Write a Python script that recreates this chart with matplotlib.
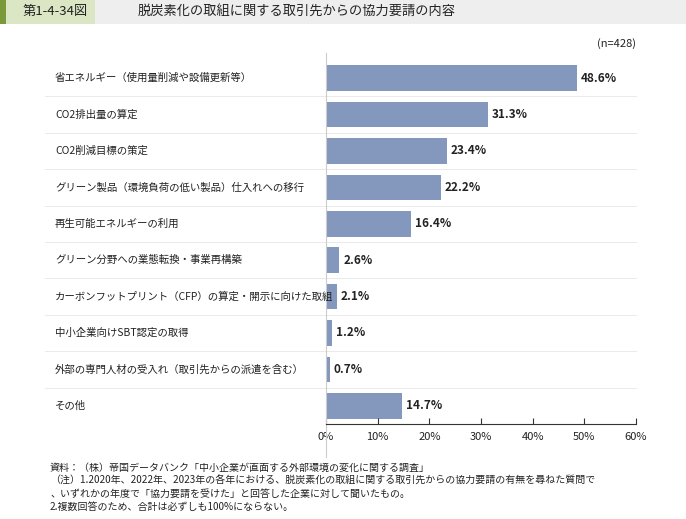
import matplotlib
matplotlib.use("Agg")
import matplotlib.pyplot as plt
from matplotlib.patches import Rectangle

plt.rcParams["font.family"] = "Noto Sans CJK JP"

categories = [
    "省エネルギー（使用量削減や設備更新等）",
    "CO2排出量の算定",
    "CO2削減目標の策定",
    "グリーン製品（環境負荷の低い製品）仕入れへの移行",
    "再生可能エネルギーの利用",
    "グリーン分野への業態転換・事業再構築",
    "カーボンフットプリント（CFP）の算定・開示に向けた取組",
    "中小企業向けSBT認定の取得",
    "外部の専門人材の受入れ（取引先からの派遣を含む）",
    "その他",
]
values = [48.6, 31.3, 23.4, 22.2, 16.4, 2.6, 2.1, 1.2, 0.7, 14.7]
xticks = [0, 10, 20, 30, 40, 50, 60]

BAR = "#8497bd"
W, H = 686, 519
fig = plt.figure(figsize=(W / 100, H / 100), dpi=100)
fig.patch.set_facecolor("white")

# header
fig.patches.append(Rectangle((0, 1 - 24 / H), 1, 24 / H, transform=fig.transFigure,
                             facecolor="#eeeeee", edgecolor="none"))
fig.patches.append(Rectangle((0, 1 - 24 / H), 95 / W, 24 / H, transform=fig.transFigure,
                             facecolor="#dbe6c4", edgecolor="none"))
fig.patches.append(Rectangle((0, 1 - 24 / H), 6 / W, 24 / H, transform=fig.transFigure,
                             facecolor="#7a9a3a", edgecolor="none"))
fig.text(23 / W, 1 - 12 / H, "第1-4-34図", fontsize=9.5, va="center", ha="left", color="#222")
fig.text(138 / W, 1 - 12 / H, "脱炭素化の取組に関する取引先からの協力要請の内容",
         fontsize=9.5, va="center", ha="left", color="#222")

ax = fig.add_axes([326 / W, 1 - 424 / H, 310 / W, 364 / H])
n = len(categories)
ys = list(range(n))
ax.barh(ys, values, height=0.7, color=BAR)
ax.set_ylim(n - 0.5, -0.5)
ax.set_xlim(0, 60)
px = 60 / 310  # data units per pixel
for y, v in zip(ys, values):
    ax.text(v + 0.8, y, f"{v:.1f}%", va="center", ha="left", fontsize=8.5,
            fontweight="bold", color="#222")
    ax.text(-(326 - 55) * px, y, categories[y], va="center", ha="left", fontsize=7.5,
            color="#222", clip_on=False)
for y in [k + 0.5 for k in range(n - 1)]:
    ax.plot([-(326 - 45) * px, 60], [y, y], color="#e6e6e6", lw=0.6, clip_on=False, zorder=0)

ax.set_xticks(xticks)
ax.set_xticklabels([f"{t}%" for t in xticks], fontsize=8, color="#222")
ax.set_yticks([])
for s in ["top", "right", "left"]:
    ax.spines[s].set_visible(False)
ax.spines["bottom"].set_color("#333")
ax.tick_params(axis="x", direction="in", length=4, pad=6, color="#333")
ax.axvline(0, color="#cccccc", lw=0.8, ymin=-0.09, ymax=1.02, clip_on=False)
ax.text(60, -0.95, "(n=428)", ha="right", va="center", fontsize=8, color="#222")

notes = [
    "資料：（株）帝国データバンク「中小企業が直面する外部環境の変化に関する調査」",
    "（注）1.2020年、2022年、2023年の各年における、脱炭素化の取組に関する取引先からの協力要請の有無を尋ねた質問で",
    "、いずれかの年度で「協力要請を受けた」と回答した企業に対して聞いたもの。",
    "2.複数回答のため、合計は必ずしも100%にならない。",
]
for i, t in enumerate(notes):
    fig.text(50 / W, 1 - (468 + i * 13) / H, t, fontsize=7.2, va="center", ha="left", color="#222")

fig.savefig("out.png", dpi=100, facecolor="white")
